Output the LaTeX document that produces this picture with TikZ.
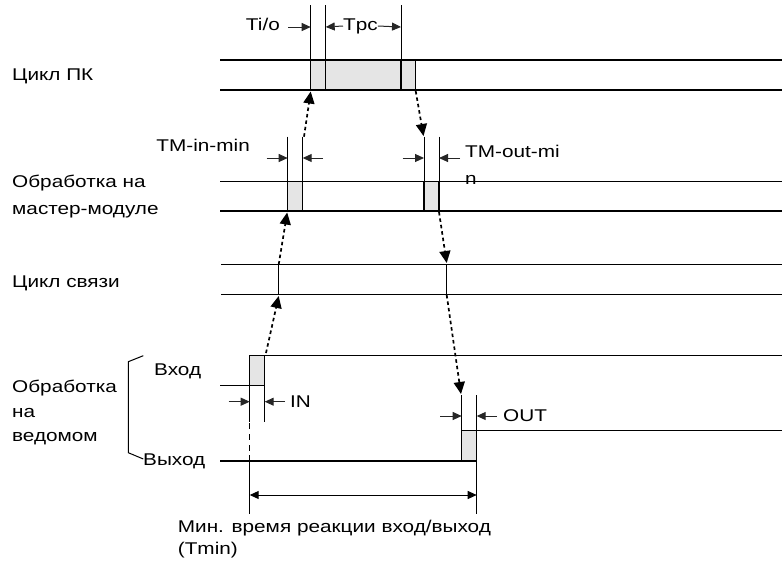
\documentclass[tikz,border=0pt]{standalone}
\usepackage{fontspec}
\setmainfont[FakeStretch=1.22]{Liberation Sans}
\usetikzlibrary{arrows.meta}
\tikzset{
  sig/.style={black, line width=1.2pt},
  busy/.style={draw=black, fill=gray!20, line width=1.1pt},
  ext/.style={black, line width=1pt},
  dimarr/.style={-{Triangle[length=9pt,width=8pt]}, black!85, line width=1pt},
  twoarr/.style={{Triangle[length=9pt,width=8pt]}-{Triangle[length=9pt,width=8pt]}, black, line width=1pt},
  flow/.style={-{Triangle[length=12pt,width=11pt]}, black, line width=1.7pt, dash pattern=on 3.5pt off 3pt},
  lbl/.style={anchor=west, inner sep=0pt, align=left}
}
\begin{document}
\begin{tikzpicture}[x=1pt, y=-1pt, font=\fontsize{17}{27}\selectfont]
\useasboundingbox (0,0) rectangle (782,568);

% row labels
\node[lbl] (pc) at (12,76.7) {Цикл ПК};
\node[lbl] (master) at (12,196.5) {Обработка на\\мастер-модуле};
\node[lbl] (comm) at (12,283) {Цикл связи};
\node[lbl, font=\fontsize{17}{24.5}\selectfont] (slave) at (12,412.5) {Обработка\\на\\ведомом};
\node[lbl] (inp) at (154,371.7) {Вход};
\node[lbl] (outp) at (143,461.7) {Выход};

% PC cycle
\draw[sig] (220,60) -- (782,60);
\draw[sig] (220,90) -- (782,90);
\draw[busy] (310.7,60) rectangle (325.7,90);
\draw[busy] (325.7,60) rectangle (401,90);
\draw[busy] (401,60) rectangle (415.7,90);
\draw[ext] (310.7,5) -- (310.7,60);
\draw[ext] (325.7,5) -- (325.7,60);
\draw[ext] (401,5) -- (401,60);
\node[lbl, anchor=east] (tio) at (280,24) {Ti/o};
\node[lbl] (tpc) at (343,26) {Tpc};
\coordinate (tioL) at (288,27);
\coordinate (tioR) at (310.7,27);
\coordinate (tpcL) at (325.7,27);
\coordinate (tpcR) at (401,27);
\draw[dimarr] (tioL) -- (tioR);
\draw[dimarr] (tpc.west) -- (tpcL);
\draw[dimarr] (tpc.east) -- (tpcR);

% master module
\draw[sig] (220,181.7) -- (782,181.7);
\draw[sig] (220,211) -- (782,211);
\draw[busy] (287.7,181.7) rectangle (302.7,211);
\draw[busy] (424,181.7) rectangle (439,211);
\draw[ext] (287.7,136.7) -- (287.7,181.7);
\draw[ext] (302.7,136.7) -- (302.7,181.7);
\draw[ext] (424,136.7) -- (424,181.7);
\draw[ext] (439,136.7) -- (439,181.7);
\node[lbl, anchor=east] (tmin) at (250,145) {TM-in-min};
\node[lbl] (tmout) at (465,164.5) {TM-out-mi\\n};
\draw[dimarr] (266.7,158) -- (287.7,158);
\draw[dimarr] (323,158) -- (302.7,158);
\draw[dimarr] (402.7,158) -- (424,158);
\draw[dimarr] (460,158) -- (439,158);

% communication cycle
\draw[sig] (221,264.5) -- (782,264.5);
\draw[sig] (221,294.5) -- (782,294.5);
\draw[ext] (278.7,264.5) -- (278.7,294.5);
\draw[ext] (446.7,264.5) -- (446.7,294.5);

% slave input
\draw[busy] (249.7,355.7) rectangle (264.7,385.3);
\draw[sig] (220,385.3) -- (249.7,385.3) -- (249.7,355.7) -- (782,355.7);
\draw[ext] (249.7,385.3) -- (249.7,421.7);
\draw[ext] (264.7,355.7) -- (264.7,421.7);
\draw[dimarr] (228.7,401.7) -- (249.7,401.7);
\draw[dimarr] (285,401.7) -- (264.7,401.7);
\node[lbl] (in) at (290,401.7) {IN};

% slave output
\draw[busy] (461.7,430.7) rectangle (476.7,461);
\draw[sig] (220,461) -- (461.7,461);
\draw[sig] (476.7,461) -- (476.7,430.7) -- (782,430.7);
\draw[ext] (461.7,395) -- (461.7,461);
\draw[ext] (476.7,395) -- (476.7,514);
\draw[dimarr] (440,416) -- (461.7,416);
\draw[dimarr] (497,416) -- (476.7,416);
\node[lbl] (out) at (503,416) {OUT};

% bracket
\draw[ext] (143.3,355.7) -- (128.3,361.7) -- (128.3,452.7) -- (143.3,459);

% Tmin
\coordinate (tstart) at (249.7,495);
\coordinate (tend) at (476.7,495);
\draw[ext, dash pattern=on 6pt off 5pt] (249.7,423) -- (249.7,455);
\draw[ext] (249.7,455) -- (249.7,514);
\draw[twoarr] (tstart) -- (tend);
\node[lbl, font=\fontsize{17}{22}\selectfont] (tmint) at (177.7,539) {Мин. время реакции вход/выход\\(Tmin)};

% signal flow
\coordinate (f1a) at (266,353);
\coordinate (f1b) at (278.7,296);
\coordinate (f2a) at (278.7,264.5);
\coordinate (f2b) at (287.2,212.5);
\coordinate (f3a) at (304,136.7);
\coordinate (f3b) at (310.7,91.5);
\coordinate (f4a) at (415.7,91);
\coordinate (f4b) at (423.5,136);
\coordinate (f5a) at (439,212);
\coordinate (f5b) at (446.7,263);
\coordinate (f6a) at (446.7,295);
\coordinate (f6b) at (461,394);
\foreach \s in {1,...,6}
  \draw[flow] (f\s a) -- (f\s b);
\end{tikzpicture}
\end{document}
